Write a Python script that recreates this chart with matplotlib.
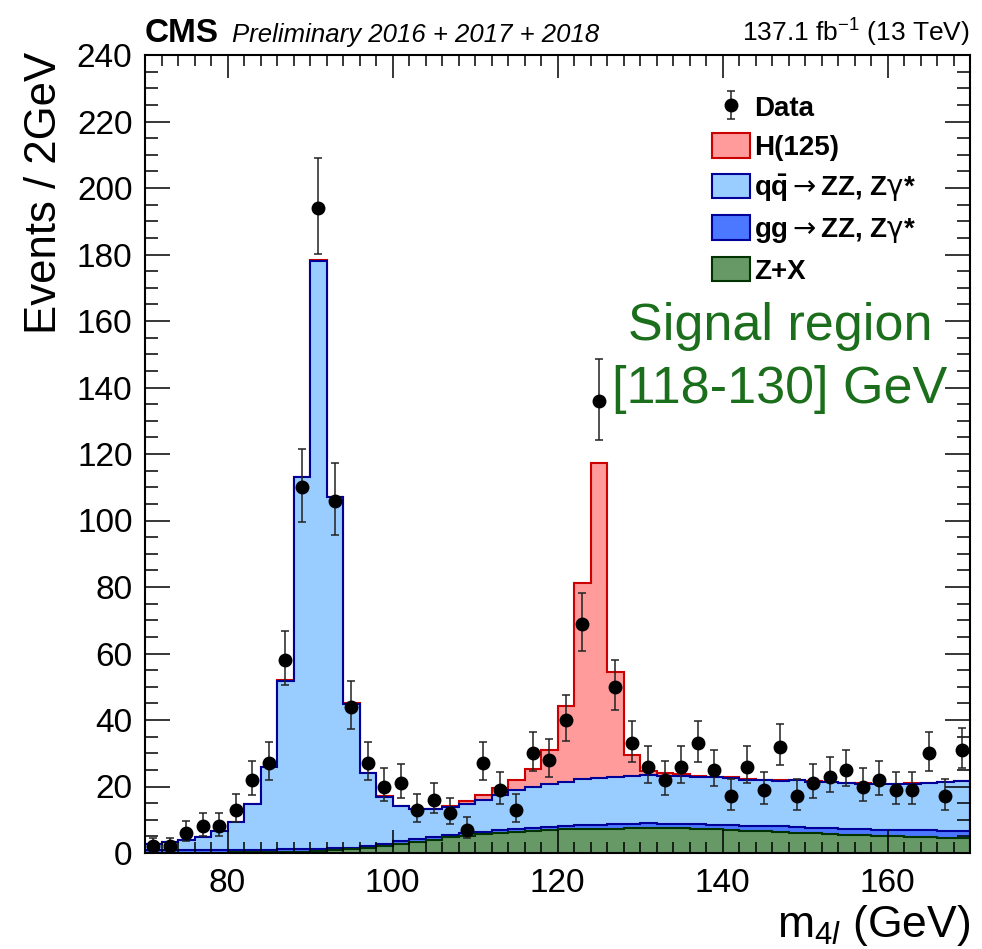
import numpy as np
import matplotlib
matplotlib.use("Agg")
import matplotlib.pyplot as plt
from matplotlib.patches import Patch

plt.rcParams["font.family"] = ["Liberation Sans", "DejaVu Sans"]
plt.rcParams["mathtext.fontset"] = "custom"
plt.rcParams["mathtext.rm"] = "Liberation Sans"
plt.rcParams["mathtext.it"] = "Liberation Sans:italic"
plt.rcParams["mathtext.bf"] = "Liberation Sans:bold"
plt.rcParams["mathtext.sf"] = "DejaVu Sans"

# ---- binning: m4l from 70 to 170 GeV in 2 GeV bins ----
bin_edges = np.arange(70, 172, 2)
bin_centers = 0.5 * (bin_edges[:-1] + bin_edges[1:])

# ---- observed events per bin ----
data_counts = [2, 2, 6, 8, 8, 13, 22, 27, 58, 110,
               194, 106, 44, 27, 20, 21, 13, 16, 12, 7,
               27, 19, 13, 30, 28, 40, 69, 136, 50, 33,
               26, 22, 26, 33, 25, 17, 26, 19, 32, 17,
               21, 23, 25, 20, 22, 19, 19, 30, 17, 31]

# ---- expected yields per bin, by process ----
zx = [0.1, 0.1, 0.1, 0.15, 0.15, 0.2, 0.2, 0.25, 0.3, 0.4,
      0.5, 0.8, 1.1, 1.5, 2.1, 2.7, 3.4, 3.9, 4.7, 5.2,
      5.6, 5.9, 6.4, 6.6, 6.9, 7.1, 7.2, 7.3, 7.3, 7.4,
      7.4, 7.4, 7.4, 7.2, 7.1, 6.9, 6.7, 6.5, 6.4, 6.1,
      5.9, 5.7, 5.5, 5.4, 5.2, 5.1, 4.9, 4.8, 4.6, 4.5]

gg_zz = [0.8, 0.8, 0.8, 0.8, 0.8, 0.8, 0.8, 0.8, 0.8, 0.8,
         0.8, 0.6, 0.5, 0.5, 0.5, 0.8, 0.8, 0.8, 0.6, 0.7,
         0.8, 1.0, 0.8, 1.0, 1.0, 1.0, 1.1, 1.2, 1.3, 1.4,
         1.5, 1.4, 1.3, 1.4, 1.4, 1.5, 1.5, 1.6, 1.6, 1.7,
         1.7, 1.7, 1.7, 1.7, 1.8, 1.8, 1.9, 2.0, 2.1, 2.2]

qq_zz = [1.9, 2.4, 2.9, 3.85, 5.55, 8.2, 13.6, 24.75, 50.7, 111.8,
         176.7, 105.6, 43.2, 22.0, 14.2, 10.5, 8.9, 8.5, 8.6, 8.8,
         9.5, 10.6, 11.7, 12.3, 12.9, 13.4, 13.9, 14.2, 14.4, 14.5,
         14.6, 14.5, 14.5, 14.3, 14.3, 14.3, 13.9, 13.8, 13.8, 14.1,
         13.9, 13.9, 13.8, 13.8, 13.7, 13.8, 14.1, 14.3, 14.6, 14.9]

higgs = [0.05, 0.05, 0.05, 0.1, 0.1, 0.15, 0.2, 0.2, 0.2, 0.2,
         0.3, 0.2, 0.2, 0.2, 0.2, 0.2, 0.1, 0.15, 0.2, 1.0,
         1.5, 2.0, 3.1, 5.5, 10.2, 22.7, 59.0, 94.5, 31.4, 6.2,
         1.3, 0.7, 0.6, 0.2, 0.1, 0.1, 0.1, 0.1, 0.1, 0.1,
         0.1, 0.1, 0.1, 0.1, 0.1, 0.1, 0.1, 0.1, 0.1, 0.1]

labels = ["Data",
          "H(125)",
          r"$\mathbf{q\bar{q}}\mathsf{\rightarrow}$ZZ, Z$\mathsf{\gamma}$*",
          r"gg$\mathsf{\rightarrow}$ZZ, Z$\mathsf{\gamma}$*",
          "Z+X"]

# fill / line colours of the stacked processes
fill_h, line_h = "#ff9b9b", "#cc0000"
fill_qq, line_qq = "#99ccff", "#000099"
fill_gg, line_gg = "#4b78ff", "#000099"
fill_zx, line_zx = "#669966", "#003300"

# ---- figure ----
W, H = 982, 949
fig = plt.figure(figsize=(W / 100, H / 100), dpi=100)
ax = fig.add_axes([145 / W, 1 - 853 / H, 825 / W, 798 / H])

# stacked expectation: draw cumulative sums from the top down
c_zx = np.array(zx)
c_gg = c_zx + np.array(gg_zz)
c_qq = c_gg + np.array(qq_zz)
c_h = c_qq + np.array(higgs)

for cum, fc, ec in [(c_h, fill_h, line_h), (c_qq, fill_qq, line_qq),
                    (c_gg, fill_gg, line_gg), (c_zx, fill_zx, line_zx)]:
    ax.stairs(cum, bin_edges, fill=True, facecolor=fc, edgecolor=ec,
              linewidth=1.5, baseline=0, zorder=1)

# data with central 68% Poisson intervals
n = np.array(data_counts, dtype=float)
up = (n + 1) * (1 - 1 / (9 * (n + 1)) + 1 / (3 * np.sqrt(n + 1))) ** 3 - n
lo = n - n * (1 - 1 / (9 * n) - 1 / (3 * np.sqrt(n))) ** 3
eb = ax.errorbar(bin_centers, n, yerr=[lo, up], fmt="o", color="black",
                 ecolor="#222222", elinewidth=1.1, capsize=2.8, capthick=1.1,
                 markersize=9, zorder=4)

ax.set_xlim(70, 170)
ax.set_ylim(0, 240)
ax.set_xticks(np.arange(80, 170, 20))
ax.set_xticks(np.arange(70, 171, 2), minor=True)
ax.set_yticks(np.arange(0, 241, 20))
ax.set_yticks(np.arange(0, 241, 5), minor=True)
ax.tick_params(axis="both", which="both", direction="in", top=True, right=True,
               labelsize=24, width=1.1, colors="black")
ax.tick_params(axis="y", which="major", length=18, pad=9)
ax.tick_params(axis="y", which="minor", length=9.5)
ax.tick_params(axis="x", which="major", length=16.5, pad=11)
ax.tick_params(axis="x", which="minor", length=8)
for s in ax.spines.values():
    s.set_linewidth(1.5)
ax.set_axisbelow(False)

# axis titles
fig.text(45 / W, 1 - 52 / H, "Events / 2GeV", rotation=90, ha="center", va="top",
         fontsize=31.5)
fig.text(970 / W, 1 - 937 / H, r"m$_{4l}$ (GeV)", ha="right", va="baseline",
         fontsize=32)

# header
fig.text(145 / W, 1 - 42 / H, "CMS", fontsize=24, fontweight="bold", va="baseline")
fig.text(232 / W, 1 - 42 / H, "Preliminary 2016 + 2017 + 2018", fontsize=18.5,
         fontstyle="italic", va="baseline")
fig.text(970 / W, 1 - 42 / H, r"137.1 fb$^{-1}$ (13 TeV)", fontsize=19,
         ha="right", va="baseline")

# region annotation
ax.text(780 / W, 1 - 340 / H, "Signal region", transform=fig.transFigure,
        fontsize=37.5, color="#1b6e1b", ha="center", va="baseline", zorder=3)
ax.text(780 / W, 1 - 403 / H, "[118-130] GeV", transform=fig.transFigure,
        fontsize=37.5, color="#1b6e1b", ha="center", va="baseline", zorder=3)

# legend
handles = [eb,
           Patch(facecolor=fill_h, edgecolor=line_h, linewidth=1.5),
           Patch(facecolor=fill_qq, edgecolor=line_qq, linewidth=1.5),
           Patch(facecolor=fill_gg, edgecolor=line_gg, linewidth=1.5),
           Patch(facecolor=fill_zx, edgecolor=line_zx, linewidth=1.5)]
leg = ax.legend(handles, labels, loc="upper left",
                bbox_to_anchor=(712 / W, 1 - 94 / H), bbox_transform=fig.transFigure,
                frameon=False, borderpad=0, borderaxespad=0,
                prop={"weight": "bold", "size": 20},
                handlelength=1.35, handleheight=0.97, handletextpad=0.15,
                labelspacing=0.42)

fig.savefig("out.png", dpi=100)
